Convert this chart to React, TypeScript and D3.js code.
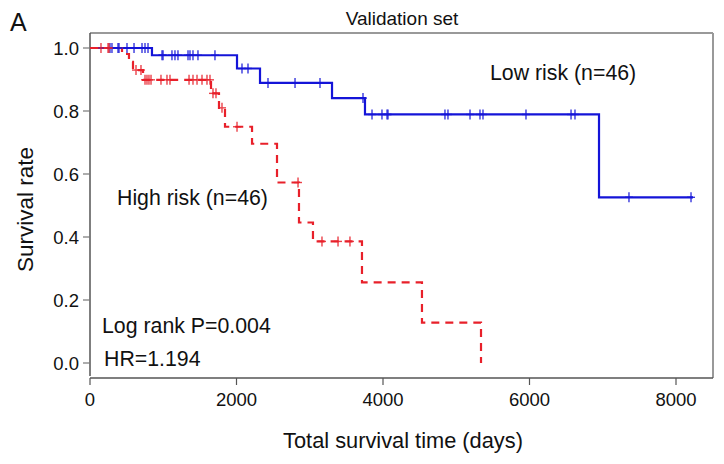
import React from "react";
import * as d3 from "d3";

// ---- Data ----
const lowTimes = [846, 2007, 2321, 3304, 3754, 6949];
const lowSurv = [0.977, 0.935, 0.889, 0.841, 0.789, 0.526];
const lowEnd = 8232;
const lowCensor = [
  273, 300, 382, 396, 505, 601, 710, 751, 792,
  983, 997, 1119, 1160, 1201, 1338, 1365, 1406, 1474, 1706,
  2075, 2157,
  2430, 2799, 3140,
  3727,
  3850, 3986, 4055, 4068, 4846, 4887, 5188, 5324, 5365, 5952, 6567, 6621,
  7358, 8205,
];

const highTimes = [437, 532, 587, 724, 1652, 1761, 1843, 2212, 2553, 2853, 3044, 3713, 4532, 5338];
const highSurv = [0.981, 0.956, 0.93, 0.899, 0.856, 0.81, 0.75, 0.696, 0.573, 0.446, 0.386, 0.256, 0.128, 0.0];
const highEnd = 5338;
const highCensor = [
  150, 246, 259,
  628, 696,
  751, 778, 805, 833, 969, 1051, 1092, 1352, 1406, 1461, 1529, 1597, 1638,
  1679, 1720,
  1802,
  2007,
  2840,
  3167, 3386, 3549,
];

const xTicks = [0, 2000, 4000, 6000, 8000];
const yTicks = [0, 0.2, 0.4, 0.6, 0.8, 1.0];

const BLUE = "#1414d8";
const RED = "#e8202a";
const FONT = "Liberation Sans, Arial, sans-serif";

function survAt(times: number[], surv: number[], t: number) {
  let s = 1;
  for (let i = 0; i < times.length; i++) if (times[i] <= t) s = surv[i];
  return s;
}

export default function App() {
  const W = 724, H = 464;
  const left = 90, right = 713, top = 33, axisY = 378;
  const x = d3.scaleLinear().domain([0, 8000]).range([90, 676]);
  const y = d3.scaleLinear().domain([0, 1]).range([363, 48]);

  const line = d3
    .line<[number, number]>()
    .x((d) => x(d[0]))
    .y((d) => y(d[1]))
    .curve(d3.curveStepAfter);

  const mk = (times: number[], surv: number[], end: number): [number, number][] => {
    const pts: [number, number][] = [[0, 1]];
    times.forEach((t, i) => pts.push([t, surv[i]]));
    if (end > times[times.length - 1]) pts.push([end, surv[surv.length - 1]]);
    return pts;
  };

  const lowPath = line(mk(lowTimes, lowSurv, lowEnd)) || "";
  const highPath = line(mk(highTimes, highSurv, highEnd)) || "";

  const cross = (t: number, s: number, color: string, key: string) => {
    const cx = x(t), cy = y(s);
    return (
      <g key={key} stroke={color} strokeWidth={1.4} opacity={0.85}>
        <line x1={cx} x2={cx} y1={cy - 5} y2={cy + 5} />
        <line x1={cx - 4} x2={cx + 4} y1={cy} y2={cy} />
      </g>
    );
  };

  return (
    <svg
      width={W}
      height={H}
      style={{ position: "absolute", left: 0, top: 0, background: "#fff" }}
      fontFamily={FONT}
    >
      <rect x={0} y={0} width={W} height={H} fill="#fff" />
      {/* box */}
      <line x1={left} x2={right} y1={top} y2={top} stroke="#999" strokeWidth={2} />
      <line x1={right} x2={right} y1={top} y2={axisY} stroke="#999" strokeWidth={2} />
      <line x1={left} x2={left} y1={top} y2={axisY - 2} stroke="#555" strokeWidth={1.5} />
      {/* x axis */}
      <line x1={left} x2={right} y1={axisY} y2={axisY} stroke="#555" strokeWidth={1.5} />
      {xTicks.map((t) => (
        <g key={"xt" + t}>
          <line x1={x(t)} x2={x(t)} y1={axisY} y2={axisY + 7} stroke="#555" strokeWidth={1.2} />
          <text x={x(t)} y={axisY + 28} fontSize={18.5} textAnchor="middle" fill="#111">
            {t}
          </text>
        </g>
      ))}
      {/* y axis ticks */}
      {yTicks.map((v) => (
        <g key={"yt" + v}>
          <line x1={left - 7} x2={left} y1={y(v)} y2={y(v)} stroke="#777" strokeWidth={1.2} />
          <text x={left - 11} y={y(v) + 6.5} fontSize={18.5} textAnchor="end" fill="#111">
            {v.toFixed(1)}
          </text>
        </g>
      ))}

      {/* curves */}
      <path d={lowPath} fill="none" stroke={BLUE} strokeWidth={2.2} />
      <path d={highPath} fill="none" stroke={RED} strokeWidth={2.2} strokeDasharray="8,6" />
      {lowCensor.map((t, i) => cross(t, survAt(lowTimes, lowSurv, t), BLUE, "lc" + i))}
      {highCensor.map((t, i) => cross(t, survAt(highTimes, highSurv, t), RED, "hc" + i))}

      {/* annotations */}
      <text x={490} y={80} fontSize={21.3} fill="#111">Low risk (n=46)</text>
      <text x={117} y={205} fontSize={21.3} fill="#111">High risk (n=46)</text>
      <text x={102} y={333} fontSize={21.3} fill="#111">Log rank P=0.004</text>
      <text x={104} y={366} fontSize={21.3} fill="#111">HR=1.194</text>

      {/* titles */}
      <text x={402} y={25} fontSize={19} textAnchor="middle" fill="#111">Validation set</text>
      <text x={10} y={31} fontSize={25} fill="#111">A</text>
      <text x={403} y={448} fontSize={21.8} textAnchor="middle" fill="#111">
        Total survival time (days)
      </text>
      <text
        transform={`translate(33,${(top + axisY) / 2 + 4}) rotate(-90)`}
        fontSize={22.5}
        textAnchor="middle"
        fill="#111"
      >
        Survival rate
      </text>
    </svg>
  );
}
